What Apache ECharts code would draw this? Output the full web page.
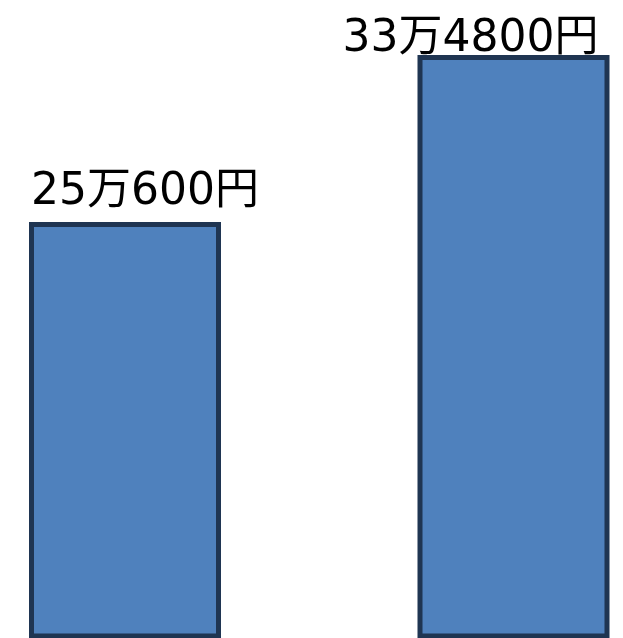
<!DOCTYPE html>
<html><head><meta charset="utf-8">
<script src="https://cdn.jsdelivr.net/npm/echarts@6/dist/echarts.min.js"></script>
<style>html,body{margin:0;padding:0;background:#fff}#c{width:623px;height:638px}</style>
</head><body><div id="c"></div>
<script>
const categories = ['A', 'B'];
const values = [250600, 334800];
const labels = ['25万600円', '33万4800円'];

const labelOffsets = [[20, -7], [-43, 7]];
const chart = echarts.init(document.getElementById('c'), null, {renderer: 'canvas'});
chart.setOption({
  animation: false,
  grid: {left: 125, right: 109.5, top: 20, bottom: 2, containLabel: false},
  xAxis: {type: 'category', data: categories, boundaryGap: false, show: false},
  yAxis: {type: 'value', min: 41870, max: 352450, show: false, splitLine: {show: false}},
  series: [{
    type: 'bar',
    barWidth: 192,
    data: values.map((v, i) => ({
      value: v,
      label: {offset: labelOffsets[i], formatter: labels[i]}
    })),
    itemStyle: {color: '#4F81BD', borderColor: '#1F3552', borderWidth: 5},
    label: {
      show: true, position: 'top', distance: 0,
      color: '#000', fontSize: 44,
      fontFamily: '"DejaVu Sans", "Noto Sans CJK JP", sans-serif'
    }
  }]
});
</script></body></html>
